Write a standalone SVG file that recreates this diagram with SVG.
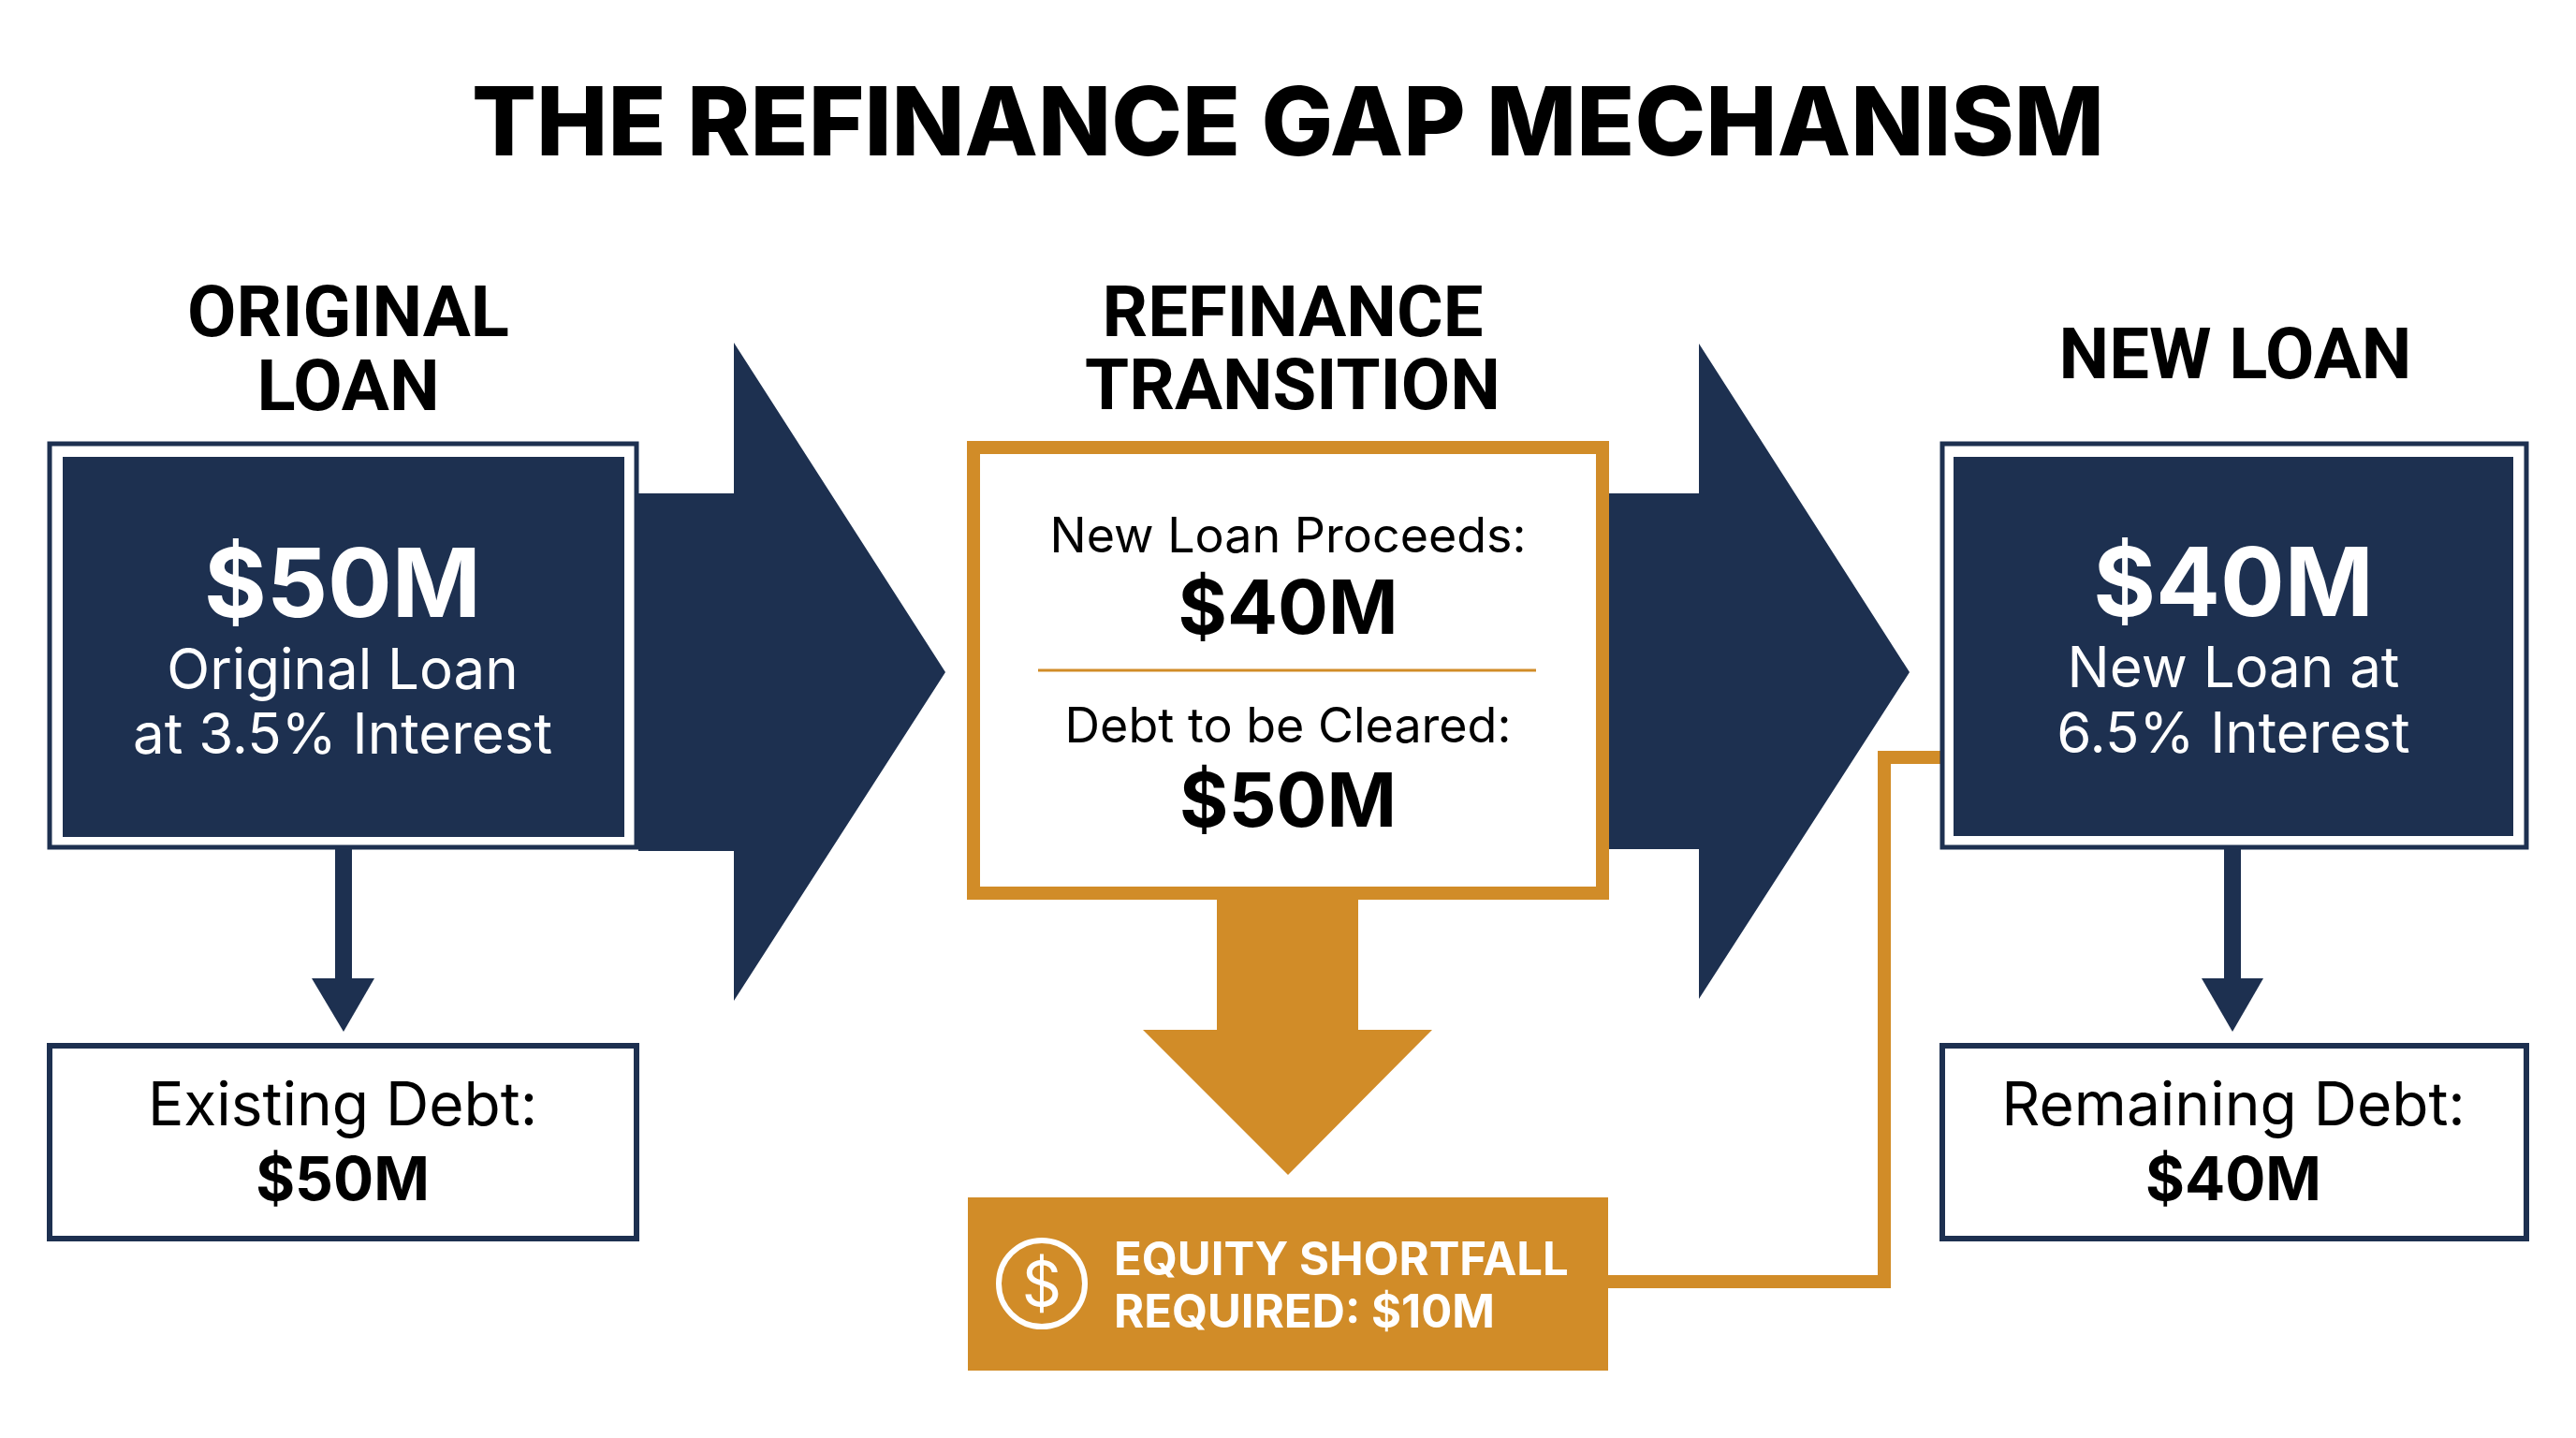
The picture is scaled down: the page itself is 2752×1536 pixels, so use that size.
<svg xmlns="http://www.w3.org/2000/svg" width="2752" height="1536" viewBox="0 0 2752 1536">
<style>
.h{font-family:Roboto,"Liberation Sans",sans-serif;font-weight:700;fill:#000;text-anchor:middle}
.t{font-family:Inter,"Open Sans",sans-serif;text-anchor:middle}
.navy{fill:#1d3050}
.org{fill:#d18c28}
</style>
<rect width="2752" height="1536" fill="#fff"/>
<text x="1376" y="166" font-size="102" text-anchor="middle" style="font-family:Inter,sans-serif;font-weight:800">THE REFINANCE GAP MECHANISM</text>
<g id="connectors">
<polygon class="navy" points="682,527 784,527 784,366 1010,718 784,1069 784,909 682,909"/>
<polygon class="navy" points="1718,527 1815,527 1815,367 2040,718 1815,1067 1815,907 1718,907"/>
<rect class="navy" x="358" y="907" width="18" height="140"/>
<polygon class="navy" points="333,1045 400,1045 367,1102"/>
<rect class="navy" x="2376" y="907" width="18" height="140"/>
<polygon class="navy" points="2352,1045 2418,1045 2385,1102"/>
<polygon class="org" points="1300,960 1451,960 1451,1100 1530,1100 1376,1255 1221,1100 1300,1100"/>
<polyline points="1718,1369 2013,1369 2013,809 2073,809" fill="none" stroke="#d18c28" stroke-width="14"/>
</g>
<g id="original">
<text class="h" x="372" y="359" font-size="76">ORIGINAL</text>
<text class="h" x="372" y="438" font-size="76">LOAN</text>
<rect x="53" y="474" width="627" height="431" fill="#fff" stroke="#1d3050" stroke-width="5"/>
<rect class="navy" x="67" y="488" width="600" height="406"/>
<text class="t" x="366" y="659" font-size="102" font-weight="700" fill="#fff">$50M</text>
<text class="t" x="366" y="736" font-size="60" fill="#fff">Original Loan</text>
<text class="t" x="366" y="805" font-size="60" fill="#fff">at 3.5% Interest</text>
</g>
<g id="existing">
<rect x="53" y="1117" width="627" height="206" fill="#fff" stroke="#1d3050" stroke-width="6"/>
<text class="t" x="366" y="1202" font-size="64">Existing Debt:</text>
<text class="t" x="366" y="1282" font-size="64" font-weight="700">$50M</text>
</g>
<g id="transition">
<text class="h" x="1381" y="359" font-size="76">REFINANCE</text>
<text class="h" x="1381" y="437" font-size="76">TRANSITION</text>
<rect x="1040" y="478" width="672" height="476" fill="#fff" stroke="#d18c28" stroke-width="14"/>
<text class="t" x="1376" y="590" font-size="52">New Loan Proceeds:</text>
<text class="t" x="1376" y="677" font-size="80" font-weight="700">$40M</text>
<line x1="1109" y1="716" x2="1641" y2="716" stroke="#d18c28" stroke-width="3"/>
<text class="t" x="1376" y="793" font-size="52">Debt to be Cleared:</text>
<text class="t" x="1376" y="883" font-size="80" font-weight="700">$50M</text>
</g>
<g id="shortfall">
<rect class="org" x="1034" y="1279" width="684" height="185"/>
<circle cx="1113" cy="1371" r="46" fill="none" stroke="#fff" stroke-width="6"/>
<text x="1113" y="1395" font-size="66" fill="#fff" text-anchor="middle" font-family="Inter,sans-serif">$</text>
<text x="1190" y="1362" font-size="49" font-weight="700" fill="#fff" font-family="Inter,sans-serif">EQUITY SHORTFALL</text>
<text x="1190" y="1418" font-size="49" font-weight="700" fill="#fff" font-family="Inter,sans-serif">REQUIRED: $10M</text>
</g>
<g id="newloan">
<text class="h" x="2388" y="404" font-size="76">NEW LOAN</text>
<rect x="2075" y="474" width="624" height="431" fill="#fff" stroke="#1d3050" stroke-width="5"/>
<rect class="navy" x="2087" y="488" width="598" height="405"/>
<text class="t" x="2386" y="658" font-size="102" font-weight="700" fill="#fff">$40M</text>
<text class="t" x="2386" y="734" font-size="60" fill="#fff">New Loan at</text>
<text class="t" x="2386" y="804" font-size="60" fill="#fff">6.5% Interest</text>
</g>
<g id="remaining">
<rect x="2075" y="1117" width="624" height="206" fill="#fff" stroke="#1d3050" stroke-width="6"/>
<text class="t" x="2386" y="1202" font-size="64">Remaining Debt:</text>
<text class="t" x="2386" y="1282" font-size="64" font-weight="700">$40M</text>
</g>
</svg>
